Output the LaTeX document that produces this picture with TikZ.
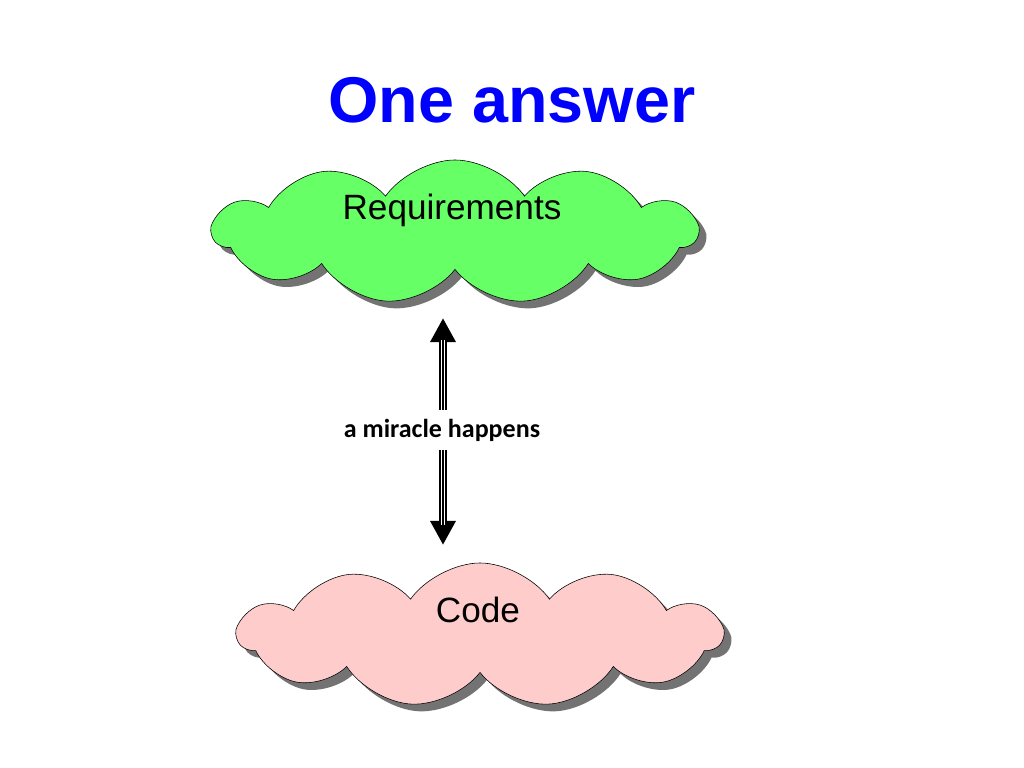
\documentclass[tikz,border=0pt]{standalone}
\usepackage{fontspec}
\setmainfont{Liberation Sans}
\newfontfamily\carlito{Carlito}
\usetikzlibrary{shapes.symbols,shadows,arrows.meta}

\definecolor{reqgreen}{RGB}{102,255,102}
\definecolor{codepink}{RGB}{255,204,204}
\definecolor{titleblue}{RGB}{0,0,255}

\tikzset{
  puff/.style={cloud,cloud puffs=11,cloud puff arc=110,draw,thin,
    minimum width=12.1cm,minimum height=3.6cm,
    drop shadow={shadow xshift=0.18cm,shadow yshift=-0.18cm,fill=black!55,opacity=1}},
  puffText/.style={font=\fontsize{25}{28}\selectfont}
}

\begin{document}
\begin{tikzpicture}[x=0.025cm,y=-0.025cm]
		\useasboundingbox (0,0) rectangle (1024,768);
		\node (title) at (512,100) {\fontsize{46}{50}\selectfont\bfseries\color{titleblue}One answer};

		\node[puff,fill=reqgreen] (req) at (455,232) {};
		\node[puffText] (reqtext) at (452,210) {Requirements};

		\node[puff,fill=codepink] (code) at (480,635) {};
		\node[puffText] (codetext) at (478,610) {Code};

		\coordinate (top) at (443,318);
		\coordinate (bot) at (443,545);
		\draw [line width=0.2cm,-{Triangle[length=0.6cm,width=0.6cm]}] (443,360) -- (top);
		\draw [line width=0.2cm,-{Triangle[length=0.6cm,width=0.6cm]}] (443,500) -- (bot);
		\draw [line width=0.2cm] (443,340) -- (443,525);
		\draw [white,line width=0.7pt,xshift=0.035cm] (443,340) -- (443,525);
		\draw [white,line width=0.7pt,xshift=-0.035cm] (443,340) -- (443,525);
		\node[fill=white,inner sep=6pt,font=\carlito\bfseries\fontsize{18.5}{20}\selectfont] (label) at (442,430) {a miracle happens};
\end{tikzpicture}
\end{document}
